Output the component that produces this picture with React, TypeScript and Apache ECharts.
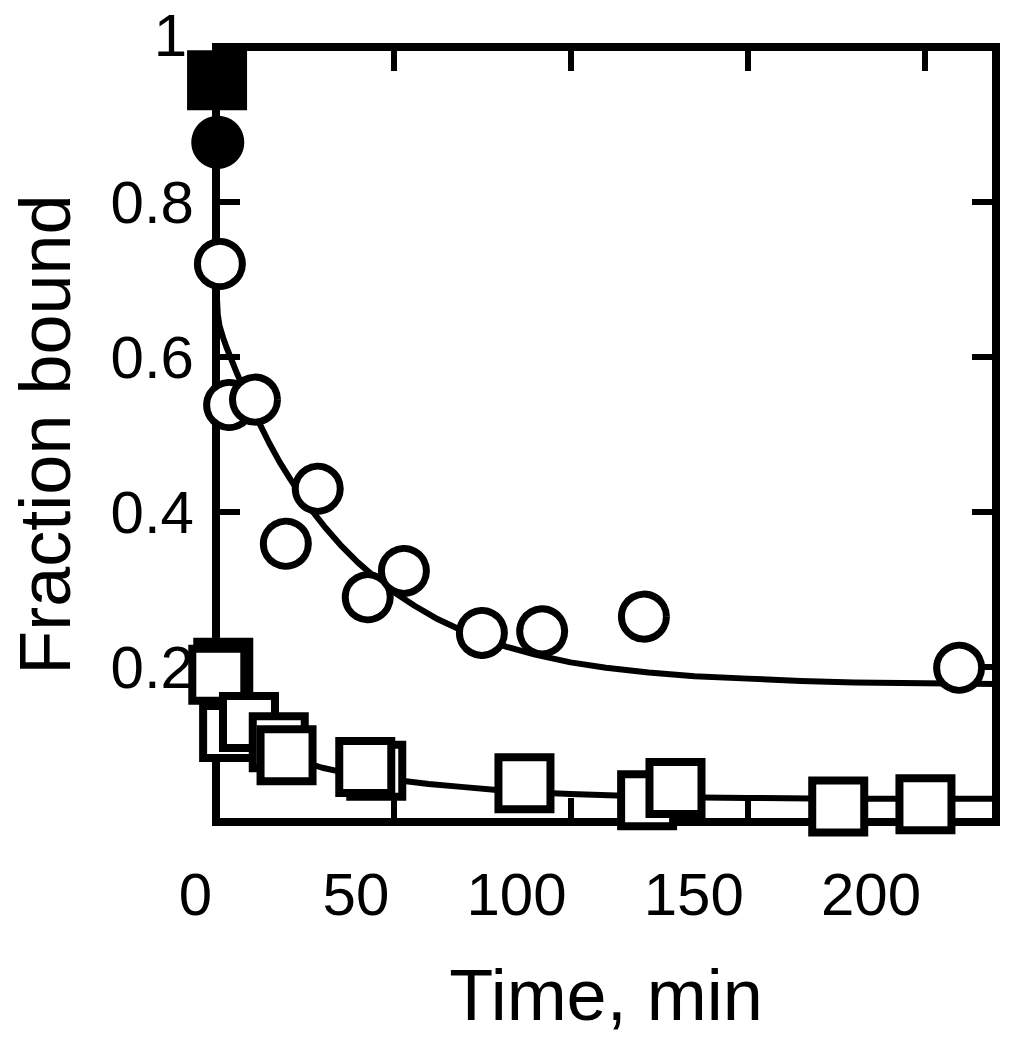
import React, { useEffect, useRef } from 'react';
import * as echarts from 'echarts';

// Open circles (time in min, fraction bound)
const circleTimes = [1.1, 3.7, 11, 19.7, 28.7, 42.8, 53, 75, 92, 120.7, 209.6];
const circleFractions = [0.72, 0.538, 0.545, 0.359, 0.43, 0.29, 0.324, 0.244, 0.246, 0.265, 0.199];

// Open squares
const squareTimes = [2.05, 0.65, 3.7, 9.3, 17.7, 19.9, 45.2, 42.1, 87, 121.6, 129.6, 175.5, 200.1];
const squareFractions = [0.199, 0.19, 0.116, 0.129, 0.103, 0.086, 0.066, 0.071, 0.05, 0.028, 0.044, 0.02, 0.023];

// Filled markers at time zero
const filledCircleTimes = [0.5];
const filledCircleFractions = [0.877];
const filledSquareTimes = [0.3];
const filledSquareFractions = [0.957];

// Fitted curve through the open circles
const fit1Times = [0, 0.5, 1, 2, 3, 4.5, 6, 8, 10, 12.5, 15, 18, 21, 24, 27, 31, 35, 40, 45, 50, 56, 62, 68, 75, 82, 90, 100, 110, 122, 135, 150, 165, 180, 200, 220];
const fit1Fractions = [0.7, 0.655, 0.64, 0.625, 0.612, 0.595, 0.578, 0.557, 0.537, 0.512, 0.489, 0.464, 0.442, 0.421, 0.402, 0.379, 0.358, 0.335, 0.315, 0.297, 0.279, 0.263, 0.25, 0.237, 0.226, 0.216, 0.206, 0.199, 0.193, 0.188, 0.185, 0.182, 0.18, 0.179, 0.178];

// Fitted curve through the open squares
const fit2Times = [0, 1, 2, 3, 4.5, 6, 8, 10, 12.5, 15, 18, 21, 25, 30, 35, 40, 46, 53, 60, 70, 80, 90, 100, 115, 130, 150, 175, 200, 220];
const fit2Fractions = [0.2, 0.18, 0.166, 0.155, 0.142, 0.132, 0.121, 0.112, 0.103, 0.096, 0.089, 0.083, 0.077, 0.07, 0.065, 0.061, 0.057, 0.053, 0.049, 0.045, 0.041, 0.038, 0.036, 0.034, 0.032, 0.031, 0.03, 0.03, 0.03];

// Axis ranges / ticks
const xMin = 0;
const xMax = 220;
const xInterval = 50;
const yMin = 0;
const yMax = 1;
const yInterval = 0.2;

const FONT = '"Liberation Sans", Arial, Helvetica, sans-serif';

const zip = (xs: number[], ys: number[]) => xs.map((x, i) => [x, ys[i]]);

export default function App() {
  const ref = useRef<HTMLDivElement>(null);

  useEffect(() => {
    const chart = echarts.init(ref.current!, null, { renderer: 'svg' });

    const axisLine = { show: true, onZero: false, lineStyle: { color: '#000', width: 8, cap: 'square' } };
    const axisTick = { show: true, inside: true, length: 24, lineStyle: { color: '#000', width: 6 } };

    chart.setOption({
      animation: false,
      backgroundColor: '#fff',
      grid: { left: 216, right: 23, top: 47, bottom: 228, containLabel: false },
      xAxis: [
        {
          type: 'value',
          position: 'bottom',
          min: xMin,
          max: xMax,
          interval: xInterval,
          axisLine,
          axisTick,
          splitLine: { show: false },
          axisLabel: {
            margin: 42,
            fontSize: 60,
            color: '#000',
            fontFamily: FONT,
            align: 'right',
            padding: [0, 4, 0, 0],
            formatter: (v: number) => (v % 50 === 0 ? String(v) : ''),
          },
          name: 'Time, min',
          nameLocation: 'middle',
          nameGap: 137,
          nameTextStyle: { fontSize: 72, color: '#000', fontFamily: FONT },
        },
        {
          type: 'value',
          position: 'top',
          min: xMin,
          max: xMax,
          interval: xInterval,
          axisLine,
          axisTick,
          splitLine: { show: false },
          axisLabel: { show: false },
        },
      ],
      yAxis: [
        {
          type: 'value',
          position: 'left',
          min: yMin,
          max: yMax,
          interval: yInterval,
          axisLine,
          axisTick,
          splitLine: { show: false },
          axisLabel: {
            margin: 22,
            fontSize: 60,
            color: '#000',
            fontFamily: FONT,
            formatter: (v: number) => {
              if (v === 0) return '';
              if (v === 1) return '{one|1}';
              return String(parseFloat(v.toFixed(1)));
            },
            rich: {
              one: { fontSize: 60, color: '#000', fontFamily: FONT, padding: [0, 7, 24, 0] },
            },
          },
          name: 'Fraction bound',
          nameLocation: 'middle',
          nameGap: 135,
          nameRotate: 90,
          nameTextStyle: { fontSize: 72, color: '#000', fontFamily: FONT },
        },
        {
          type: 'value',
          position: 'right',
          min: yMin,
          max: yMax,
          interval: yInterval,
          axisLine,
          axisTick,
          splitLine: { show: false },
          axisLabel: { show: false },
        },
      ],
      series: [
        {
          type: 'line',
          data: zip(fit1Times, fit1Fractions),
          showSymbol: false,
          symbol: 'none',
          smooth: false,
          lineStyle: { color: '#000', width: 6, join: 'round' },
          z: 2,
          silent: true,
        },
        {
          type: 'line',
          data: zip(fit2Times, fit2Fractions),
          showSymbol: false,
          symbol: 'none',
          smooth: false,
          lineStyle: { color: '#000', width: 6, join: 'round' },
          z: 2,
          silent: true,
        },
        {
          type: 'scatter',
          data: zip(circleTimes, circleFractions),
          symbol: 'circle',
          symbolSize: 45,
          clip: false,
          itemStyle: { color: '#fff', borderColor: '#000', borderWidth: 7, opacity: 1 },
          z: 3,
          silent: true,
        },
        {
          type: 'scatter',
          data: zip(squareTimes, squareFractions),
          symbol: 'rect',
          symbolSize: 52,
          clip: false,
          itemStyle: { color: '#fff', borderColor: '#000', borderWidth: 8, opacity: 1 },
          z: 3,
          silent: true,
        },
        {
          type: 'scatter',
          data: zip(filledCircleTimes, filledCircleFractions),
          symbol: 'circle',
          symbolSize: 53,
          clip: false,
          itemStyle: { color: '#000', opacity: 1 },
          z: 4,
          silent: true,
        },
        {
          type: 'scatter',
          data: zip(filledSquareTimes, filledSquareFractions),
          symbol: 'rect',
          symbolSize: 60,
          clip: false,
          itemStyle: { color: '#000', opacity: 1 },
          z: 4,
          silent: true,
        },
      ],
    });

    return () => chart.dispose();
  }, []);

  return (
    <div
      ref={ref}
      style={{ position: 'absolute', left: 0, top: 0, width: 1019, height: 1050, background: '#fff' }}
    />
  );
}
